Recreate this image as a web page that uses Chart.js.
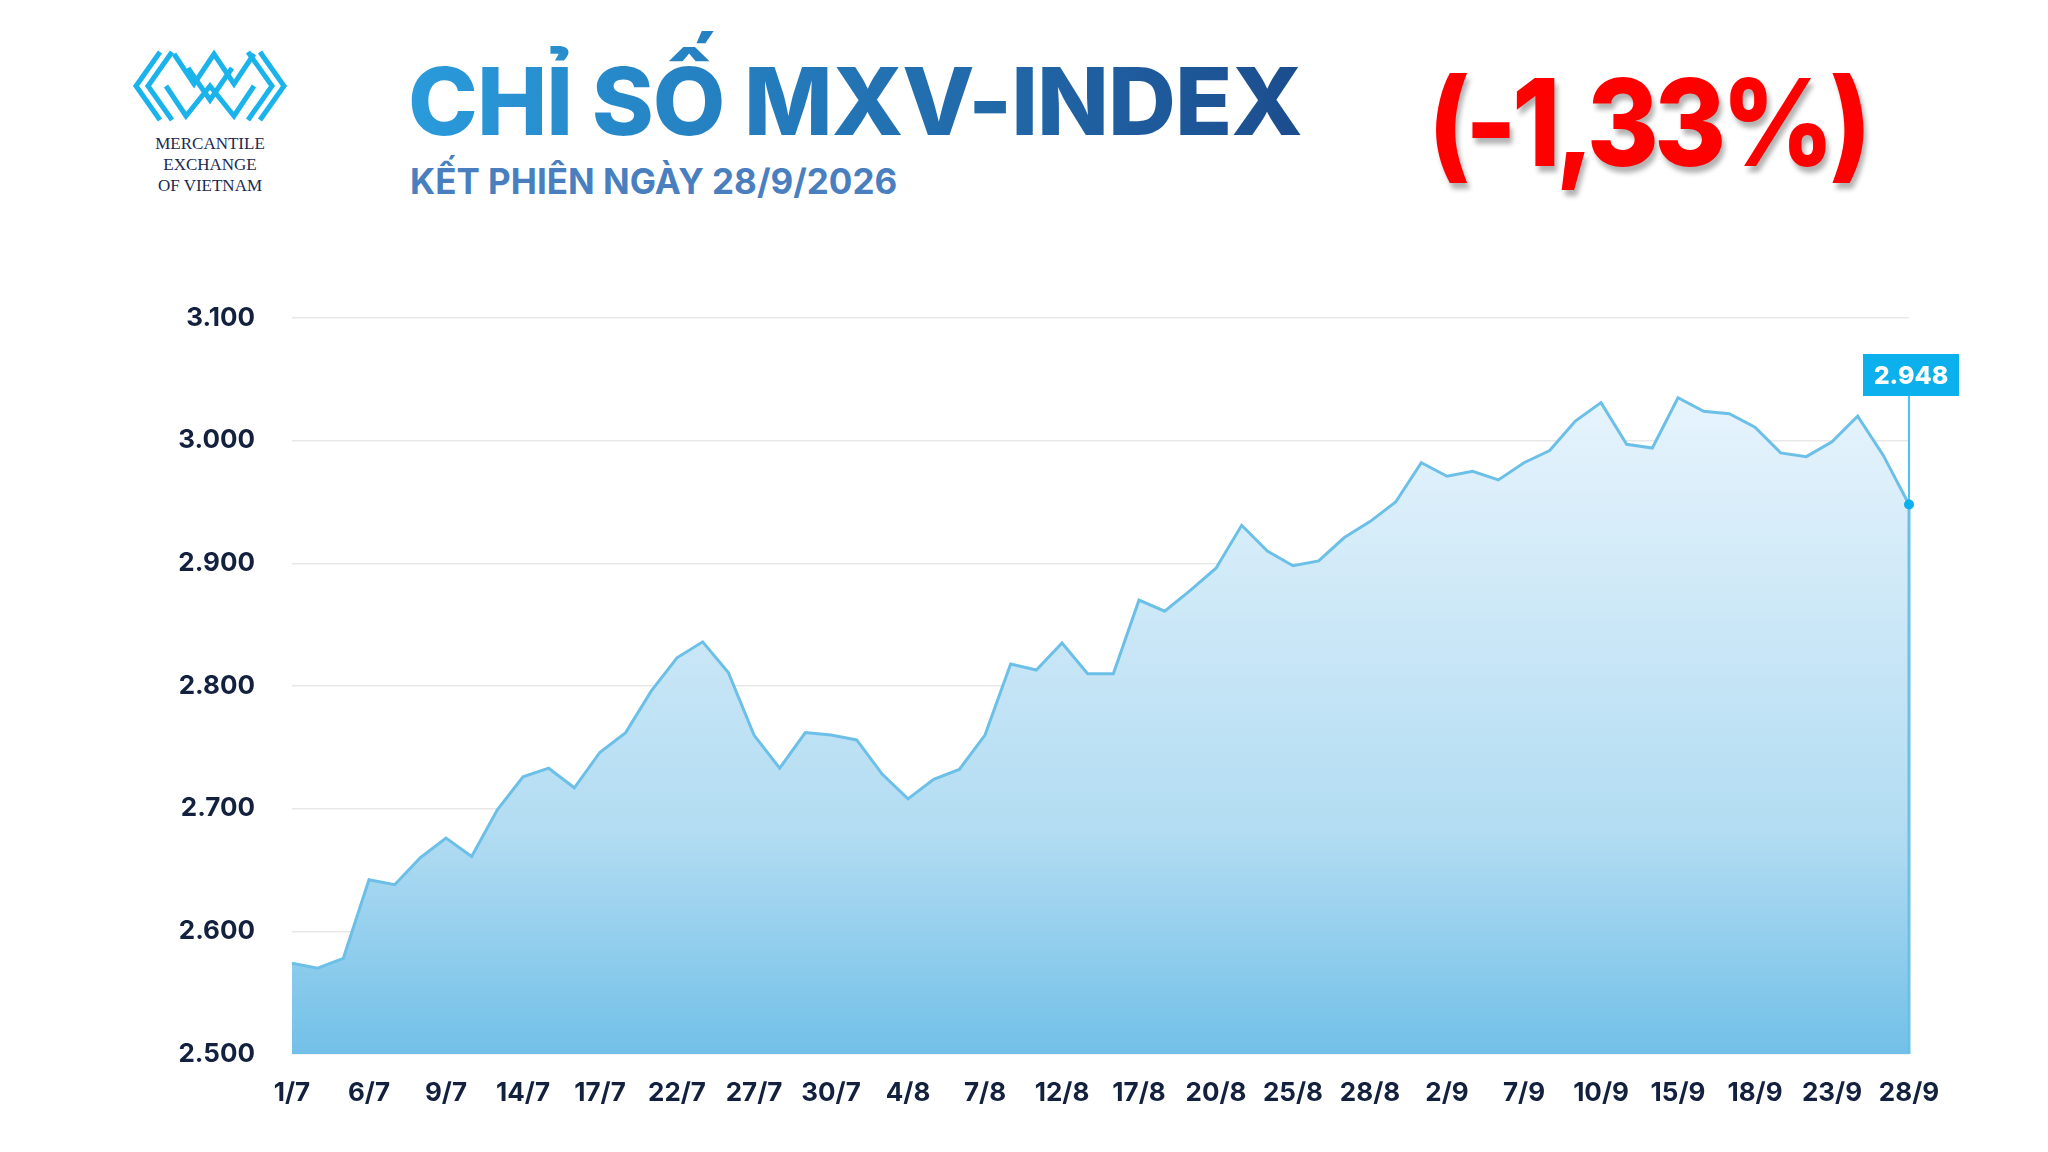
<!DOCTYPE html>
<html>
<head>
<meta charset="utf-8">
<script src="https://cdn.jsdelivr.net/npm/chart.js@4.4.0/dist/chart.umd.min.js"></script>
<style>
  body{margin:0;width:2048px;height:1152px;background:#fff;overflow:hidden;font-family:Inter,"Open Sans",sans-serif;position:relative}
  #wrap{position:absolute;left:0;top:0;width:2048px;height:1152px}
  .title{position:absolute;left:408px;top:20px;padding-top:30px;font-size:94px;font-weight:800;letter-spacing:-1px;
    background:linear-gradient(90deg,#2a9bdb,#1c4d8e);-webkit-background-clip:text;background-clip:text;color:transparent;line-height:1.1}
  .sub{position:absolute;left:410px;top:160px;font-size:35px;font-weight:700;color:#4a7fbf}
  .pct{position:absolute;left:1428px;top:56px;font-size:110px;font-weight:800;color:#ff0000;letter-spacing:-5px;
    text-shadow:3px 5px 5px rgba(0,0,0,0.3);line-height:1.1;transform:scaleY(1.1);transform-origin:top left}
  .logo{position:absolute;left:130px;top:48px;width:160px;text-align:center;font-family:"Liberation Serif",serif;font-size:17px;color:#1a2a50;line-height:21px}
</style>
</head>
<body>
<div class="logo">
  <svg width="160" height="80" viewBox="0 0 160 80">
    <g fill="none" stroke="#1ab3ec" stroke-width="5">
      <polyline points="30,4 6,38 30,72"/>
      <polyline points="42,4 18,38 42,72"/>
      <polyline points="118,4 142,38 118,72"/>
      <polyline points="130,4 154,38 130,72"/>
      <polyline points="44,6 64,36 84,6 104,36 124,6"/>
      <polyline points="36,38 56,68 80,38 104,68 124,38"/>
      <polyline points="58,20 80,52 102,20"/>
    </g>
  </svg>
  <div>MERCANTILE<br>EXCHANGE<br>OF VIETNAM</div>
</div>
<div class="title">CHỈ SỐ MXV-INDEX</div>
<div class="sub">KẾT PHIÊN NGÀY 28/9/2026</div>
<div class="pct">(-1,33%)</div>
<div id="wrap"><canvas id="myChart"></canvas></div>
<script>
var tickLabels=['1/7','6/7','9/7','14/7','17/7','22/7','27/7','30/7','4/8','7/8','12/8','17/8','20/8','25/8','28/8','2/9','7/9','10/9','15/9','18/9','23/9','28/9'];
var values=[2574,2570,2578,2642,2638,2660,2676,2661,2699,2726,2733,2717,2746,2762,2796,2823,2836,2811,2760,2733,2762,2760,2756,2728,2708,2724,2732,2760,2818,2813,2835,2810,2810,2870,2861,2878,2896,2931,2910,2898,2902,2921,2934,2950,2982,2971,2975,2968,2982,2992,3016,3031,2997,2994,3035,3024,3022,3011,2990,2987,2999,3020,2988,2948];
var yTicks=[2500,2600,2700,2800,2900,3000,3100];
var categories=values.map(function(v,i){return i%3==0?tickLabels[i/3]:'';});

function fmt(n){return String(n).replace(/\B(?=(\d{3})+(?!\d))/g,'.');}

var lastLabel={
  id:'lastLabel',
  afterDatasetsDraw:function(chart){
    var ctx=chart.ctx;
    var pt=chart.getDatasetMeta(0).data[values.length-1];
    var bw=96,bh=42,bx=pt.x-bw/2+2,by=354;
    ctx.save();
    ctx.strokeStyle='#6cc0e8';ctx.lineWidth=3;
    ctx.beginPath();ctx.moveTo(pt.x,pt.y);ctx.lineTo(pt.x,chart.chartArea.bottom);ctx.stroke();
    ctx.strokeStyle='#0bb0ec';ctx.lineWidth=1.5;
    ctx.beginPath();ctx.moveTo(pt.x,by+bh);ctx.lineTo(pt.x,pt.y);ctx.stroke();
    ctx.fillStyle='#0bb0ec';ctx.beginPath();ctx.arc(pt.x,pt.y,5,0,Math.PI*2);ctx.fill();
    ctx.fillRect(bx,by,bw,bh);
    ctx.fillStyle='#fff';ctx.font='800 25px Inter';ctx.textAlign='center';ctx.textBaseline='middle';
    ctx.fillText(fmt(values[values.length-1]),bx+bw/2,by+bh/2+1);
    ctx.restore();
  }
};

var ctx=document.getElementById('myChart').getContext('2d');
var grad=ctx.createLinearGradient(0,318,0,1054);
grad.addColorStop(0,'rgba(240,248,254,1)');
grad.addColorStop(0.7,'rgba(178,220,242,1)');
grad.addColorStop(1,'rgba(114,192,232,1)');

new Chart(ctx,{
  type:'line',
  data:{labels:categories,datasets:[{
    data:values,borderColor:'#6cc0e8',borderWidth:3,fill:'start',backgroundColor:grad,tension:0,
    pointRadius:0
  }]},
  options:{
    responsive:true,maintainAspectRatio:false,animation:false,
    layout:{padding:{top:318,right:139,bottom:38,left:0}},
    plugins:{legend:{display:false},tooltip:{enabled:false}},
    scales:{
      x:{offset:false,grid:{display:false},border:{display:false},
        afterFit:function(s){s.height=60;},
        ticks:{autoSkip:false,maxRotation:0,padding:16,color:'#13213f',font:{family:'Inter',size:26,weight:'700'}}},
      y:{min:2500,max:3100,
        afterFit:function(s){s.width=292;},
        afterBuildTicks:function(s){s.ticks=yTicks.map(function(v){return {value:v};});},
        grid:{color:'#e8e8e8',lineWidth:1.5,drawTicks:false},border:{display:false},
        ticks:{padding:37,color:'#13213f',font:{family:'Inter',size:26,weight:'700'},callback:function(v){return fmt(v);}}}
    }
  },
  plugins:[lastLabel]
});
</script>
</body>
</html>
